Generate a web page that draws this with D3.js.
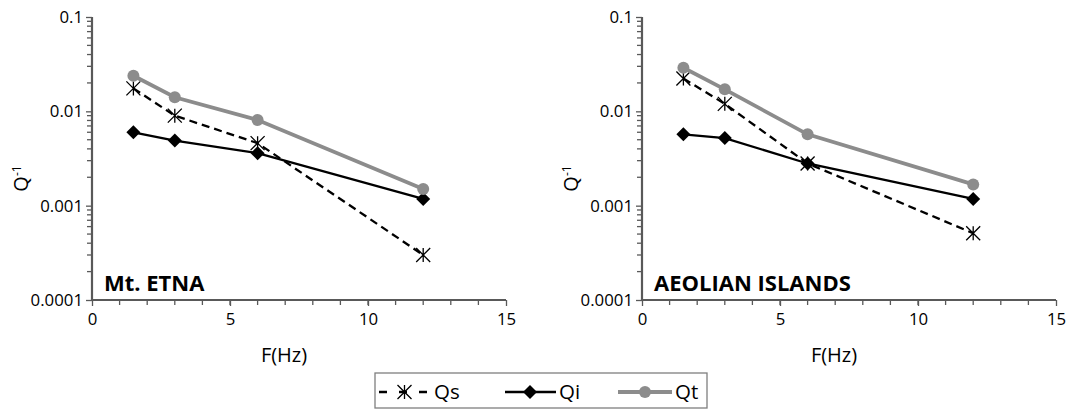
<!DOCTYPE html>
<html>
<head>
<meta charset="utf-8">
<script src="https://cdn.jsdelivr.net/npm/d3@7"></script>
<style>
  body { margin: 0; background: #fff; }
  text { font-family: "Open Sans", sans-serif; }
  .axis text { font-size: 16.8px; fill: #000; }
</style>
</head>
<body>
<div id="chart"></div>
<script>
// frequencies (Hz)
var freqs = [1.5, 3, 6, 12];

// Mt. Etna attenuation
var etnaQs = [0.0175, 0.0090, 0.0046, 0.0003];
var etnaQi = [0.0060, 0.0049, 0.0036, 0.00118];
var etnaQt = [0.0238, 0.0141, 0.0081, 0.0015];

// Aeolian islands attenuation
var aeoQs = [0.0223, 0.0120, 0.0028, 0.00051];
var aeoQi = [0.0057, 0.0052, 0.0028, 0.00118];
var aeoQt = [0.0290, 0.0171, 0.0057, 0.00168];

var yTicks = [0.0001, 0.001, 0.01, 0.1];
var yLabels = ["0.0001", "0.001", "0.01", "0.1"];
var xTicks = [0, 5, 10, 15];
var seriesNames = ["Qs", "Qi", "Qt"];

var W = 1077, H = 409;
var svg = d3.select("#chart").append("svg")
    .attr("width", W)
    .attr("height", H);

var axisColor = "#595959";

function star(g, x, y) {
  var r = 7;
  g.append("path")
    .attr("d", "M" + (x - r) + "," + (y - r) + "L" + (x + r) + "," + (y + r) +
               "M" + (x - r) + "," + (y + r) + "L" + (x + r) + "," + (y - r) +
               "M" + x + "," + (y - r) + "L" + x + "," + (y + r))
    .attr("stroke", "#000").attr("stroke-width", 1.3).attr("fill", "none");
}

// square diamond, half-diagonal 7
var diamond = "M0,-7L7,0L0,7L-7,0Z";

function panel(left, title, qs, qi, qt) {
  var top = 17, w = 414, h = 283;
  var g = svg.append("g").attr("transform", "translate(" + left + "," + top + ")");

  var x = d3.scaleLinear().domain([0, 15]).range([0, w]);
  var y = d3.scaleLog().domain([0.0001, 0.1]).range([h, 0]);

  // minor ticks
  var minorY = [];
  [0.0001, 0.001, 0.01].forEach(function(d) {
    for (var k = 2; k <= 9; k++) minorY.push(d * k);
  });
  g.selectAll(".my").data(minorY).enter().append("line")
    .attr("x1", -5).attr("x2", 0)
    .attr("y1", function(d) { return y(d); }).attr("y2", function(d) { return y(d); })
    .attr("stroke", axisColor).attr("stroke-width", 1.3);

  g.selectAll(".mx").data(d3.range(1, 15)).enter().append("line")
    .attr("x1", function(d) { return x(d); }).attr("x2", function(d) { return x(d); })
    .attr("y1", h).attr("y2", h + 5)
    .attr("stroke", axisColor).attr("stroke-width", 1.3);

  var yAxis = d3.axisLeft(y).tickValues(yTicks).tickSize(6).tickPadding(3)
    .tickFormat(function(d, i) { return yLabels[i]; });
  var xAxis = d3.axisBottom(x).tickValues(xTicks).tickSize(6).tickPadding(5);

  var ya = g.append("g").attr("class", "axis").call(yAxis);
  var xa = g.append("g").attr("class", "axis").attr("transform", "translate(0," + h + ")").call(xAxis);
  [ya, xa].forEach(function(a) {
    a.attr("font-size", 16.8).attr("font-family", "Open Sans");
    a.select(".domain").attr("stroke", axisColor).attr("stroke-width", 2.2);
    a.selectAll(".tick line").attr("stroke", axisColor).attr("stroke-width", 1.3);
    a.selectAll(".tick text").attr("fill", "#000");
  });
  ya.select(".domain").attr("d", "M0,0V" + h);
  xa.select(".domain").attr("d", "M0,0H" + w);
  xa.selectAll(".tick text").attr("dy", "0.85em");

  // labels
  g.append("text").attr("x", w / 2 - 15).attr("y", h + 62)
    .attr("text-anchor", "middle").style("font-size", "20px").text("F(Hz)");
  var ql = g.append("text").attr("transform", "translate(-64," + (h / 2 + 20) + ") rotate(-90)")
    .attr("text-anchor", "middle").style("font-size", "20px");
  ql.append("tspan").text("Q");
  ql.append("tspan").attr("dy", "-0.6em").style("font-size", "12px").text("-1");

  g.append("text").attr("x", 12).attr("y", h - 9)
    .style("font-size", "22px").style("font-weight", "bold").text(title);

  var line = d3.line()
    .x(function(d, i) { return x(freqs[i]); })
    .y(function(d) { return y(d); });

  // Qs dashed
  g.append("path").datum(qs).attr("d", line)
    .attr("fill", "none").attr("stroke", "#000").attr("stroke-width", 2.3)
    .attr("stroke-dasharray", "8,5");
  qs.forEach(function(d, i) { star(g, x(freqs[i]), y(d)); });

  // Qi solid black
  g.append("path").datum(qi).attr("d", line)
    .attr("fill", "none").attr("stroke", "#000").attr("stroke-width", 2.3);
  g.selectAll(".qi").data(qi).enter().append("path")
    .attr("transform", function(d, i) { return "translate(" + x(freqs[i]) + "," + y(d) + ")"; })
    .attr("d", diamond)
    .attr("fill", "#000");

  // Qt gray
  g.append("path").datum(qt).attr("d", line)
    .attr("fill", "none").attr("stroke", "#8c8c8c").attr("stroke-width", 3.8);
  g.selectAll(".qt").data(qt).enter().append("circle")
    .attr("cx", function(d, i) { return x(freqs[i]); })
    .attr("cy", function(d) { return y(d); })
    .attr("r", 6).attr("fill", "#8c8c8c");
}

panel(92, "Mt. ETNA", etnaQs, etnaQi, etnaQt);
panel(642, "AEOLIAN ISLANDS", aeoQs, aeoQi, aeoQt);

// legend
var lg = svg.append("g");
lg.append("rect").attr("x", 375).attr("y", 373).attr("width", 332).attr("height", 35)
  .attr("fill", "#fff").attr("stroke", "#7f7f7f").attr("stroke-width", 1.3);
var ly = 392;
// Qs
lg.append("line").attr("x1", 379).attr("x2", 430).attr("y1", ly).attr("y2", ly)
  .attr("stroke", "#000").attr("stroke-width", 2.3).attr("stroke-dasharray", "8,12");
star(lg, 404.5, ly);
// Qi
lg.append("line").attr("x1", 505).attr("x2", 556).attr("y1", ly).attr("y2", ly)
  .attr("stroke", "#000").attr("stroke-width", 2.3);
lg.append("path").attr("transform", "translate(530," + ly + ")")
  .attr("d", diamond).attr("fill", "#000");
// Qt
lg.append("line").attr("x1", 618).attr("x2", 672).attr("y1", ly).attr("y2", ly)
  .attr("stroke", "#8c8c8c").attr("stroke-width", 3.8);
lg.append("circle").attr("cx", 645).attr("cy", ly).attr("r", 6).attr("fill", "#8c8c8c");

var lx = [434, 559, 675];
lg.selectAll(".lt").data(seriesNames).enter().append("text")
  .attr("x", function(d, i) { return lx[i]; }).attr("y", ly + 7)
  .style("font-size", "20.5px").text(function(d) { return d; });
</script>
</body>
</html>
